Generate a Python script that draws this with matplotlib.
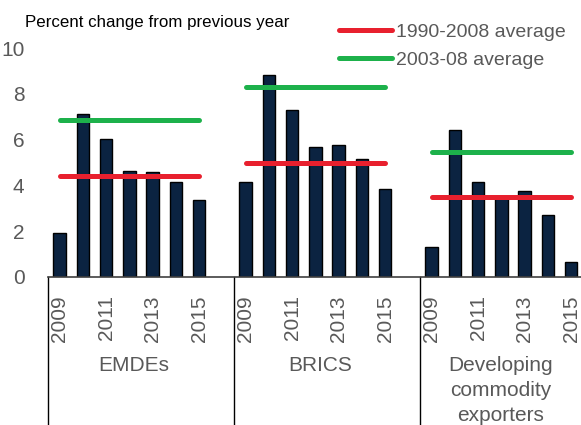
import numpy as np
import matplotlib
matplotlib.use("Agg")
import matplotlib.pyplot as plt
from matplotlib.lines import Line2D

plt.rcParams['font.family'] = ['Liberation Sans', 'DejaVu Sans']

# data
groups = ['EMDEs', 'BRICS', 'Developing\ncommodity\nexporters']
years = [2009, 2010, 2011, 2012, 2013, 2014, 2015]
year_labels = ['2009', '2011', '2013', '2015']
emdes = [1.93, 7.10, 6.01, 4.64, 4.58, 4.16, 3.35]
brics = [4.16, 8.82, 7.29, 5.67, 5.76, 5.14, 3.86]
commodity = [1.32, 6.42, 4.15, 3.45, 3.77, 2.72, 0.67]
avg_1990_2008 = [4.40, 4.99, 3.48]
avg_2003_08 = [6.86, 8.31, 5.47]

series = [emdes, brics, commodity]

navy = '#0b2341'
red = '#e8202e'
green = '#1db14b'
grey = '#595959'

fig = plt.figure(figsize=(5.81, 4.25), dpi=100)
ax = fig.add_axes([48 / 581, 1 - 277 / 425, 1 - 48 / 581, (277 - 48) / 425])

slot = 8
ticks, tlabels = [], []
for g, vals in enumerate(series):
    x = g * slot + np.arange(len(years)) + 0.5
    ax.bar(x, vals, width=0.54, color=navy, edgecolor='black', linewidth=1, zorder=2)
    ax.plot([x[0], x[-1]], [avg_2003_08[g]] * 2, color=green, lw=3.6,
            solid_capstyle='round', zorder=3)
    ax.plot([x[0], x[-1]], [avg_1990_2008[g]] * 2, color=red, lw=3.6,
            solid_capstyle='round', zorder=3)
    for i, y in enumerate(years):
        if str(y) in year_labels:
            ticks.append(x[i])
            tlabels.append(str(y))
    # separator line under the axis
    ax.plot([g * slot, g * slot], [0, -0.65], color='black', lw=1,
            transform=ax.get_xaxis_transform(), clip_on=False)

ax.set_xlim(0, (581 - 48) / 23.25)
ax.set_ylim(0, 10)
ax.set_yticks([0, 2, 4, 6, 8, 10])
ax.set_xticks(ticks)
ax.set_xticklabels(tlabels, rotation=90, fontsize=15, color=grey)
ax.tick_params(axis='x', length=0, pad=13)
ax.tick_params(axis='y', length=0, pad=17, labelsize=15, labelcolor=grey)

for s in ['top', 'right', 'left']:
    ax.spines[s].set_visible(False)
ax.spines['bottom'].set_color('#404040')
ax.spines['bottom'].set_linewidth(1.2)

# group labels
group_x = [3.7, 11.7, (501 - 48) / 23.25]
for gx, name in zip(group_x, groups):
    ax.text(gx, -0.343, name, transform=ax.get_xaxis_transform(), ha='center',
            va='top', fontsize=15, color=grey, linespacing=1.4)

fig.text(25 / 581, 1 - 22 / 425, 'Percent change from previous year',
         fontsize=12.2, color='black', va='center', ha='left')

handles = [Line2D([], [], color=red, lw=3.6, solid_capstyle='round'),
           Line2D([], [], color=green, lw=3.6, solid_capstyle='round')]
fig.legend(handles, ['1990-2008 average', '2003-08 average'],
           loc='upper left', bbox_to_anchor=(339 / 581, 1 - 23 / 425),
           frameon=False, fontsize=14, labelcolor=grey, handlelength=2.75,
           handletextpad=0.2, labelspacing=0.55, borderaxespad=0, borderpad=0)

fig.savefig('out.png', dpi=100)
